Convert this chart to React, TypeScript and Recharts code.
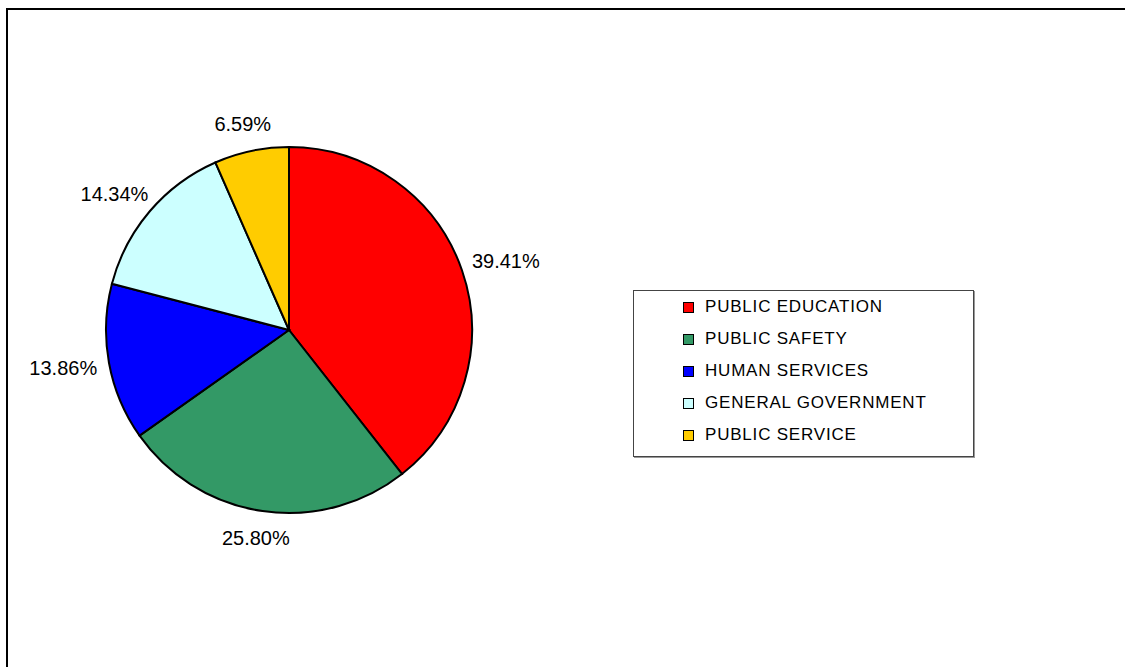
import { PieChart, Pie, Cell, Legend } from 'recharts';

const categories = ['PUBLIC EDUCATION', 'PUBLIC SAFETY', 'HUMAN SERVICES', 'GENERAL GOVERNMENT', 'PUBLIC SERVICE'];
const shares = [39.41, 25.8, 13.86, 14.34, 6.59];
const sliceLabels = ['39.41%', '25.80%', '13.86%', '14.34%', '6.59%'];
const colors = ['#FF0000', '#339966', '#0000FF', '#CCFFFF', '#FFCC00'];

const data = categories.map((name, i) => ({ name, value: shares[i], label: sliceLabels[i], color: colors[i] }));

const RAD = Math.PI / 180;

const renderLabel = (props: any) => {
  const { cx, cy, midAngle, outerRadius, index } = props;
  const text = sliceLabels[index];
  const cos = Math.cos(-midAngle * RAD);
  const sin = Math.sin(-midAngle * RAD);
  const r = outerRadius + 20;
  const halfW = text.length * 4.4;
  const x = cx + r * cos + cos * halfW;
  const y = cy + r * sin + sin * 7;
  return (
    <text x={x} y={y} textAnchor="middle" dominantBaseline="central" fill="#000" fontSize={20} fontFamily="'Liberation Sans', Arial, sans-serif">
      {text}
    </text>
  );
};

const renderLegend = () => (
  <div style={{ width: 339, height: 165, border: '1px solid #444', boxShadow: '1px 1px 0 #999', background: '#fff', position: 'relative' }}>
    {data.map((d, i) => (
      <div key={d.name} style={{ position: 'absolute', left: 49, top: 16 + i * 32 - 12, height: 24, display: 'flex', alignItems: 'center' }}>
        <div style={{ width: 9, height: 9, background: d.color, border: '1px solid #000', marginRight: 11 }} />
        <span style={{ fontSize: 17, letterSpacing: 0.8, color: '#000', fontFamily: "'Liberation Sans', Arial, sans-serif", whiteSpace: 'nowrap' }}>{d.name}</span>
      </div>
    ))}
  </div>
);

export default function App() {
  return (
    <div style={{ position: 'fixed', left: 0, top: 0, width: 1125, height: 667, background: '#fff', overflow: 'hidden' }}>
      <div style={{ position: 'absolute', left: 6, top: 8, width: 1200, height: 800, borderTop: '2px solid #000', borderLeft: '2px solid #000' }} />
      <div style={{ position: 'absolute', left: 0, top: 0 }}>
        <PieChart width={1125} height={667} margin={{ top: 0, right: 0, bottom: 0, left: 0 }}>
          <Pie
            data={data}
            dataKey="value"
            nameKey="name"
            cx={289}
            cy={330}
            outerRadius={183}
            startAngle={90}
            endAngle={-270}
            stroke="#000"
            strokeWidth={2}
            label={renderLabel}
            labelLine={false}
            isAnimationActive={false}
          >
            {data.map((d) => (
              <Cell key={d.name} fill={d.color} />
            ))}
          </Pie>
          <Legend content={renderLegend} wrapperStyle={{ position: 'absolute', left: 633, top: 290, width: 341, height: 167 }} />
        </PieChart>
      </div>
    </div>
  );
}
